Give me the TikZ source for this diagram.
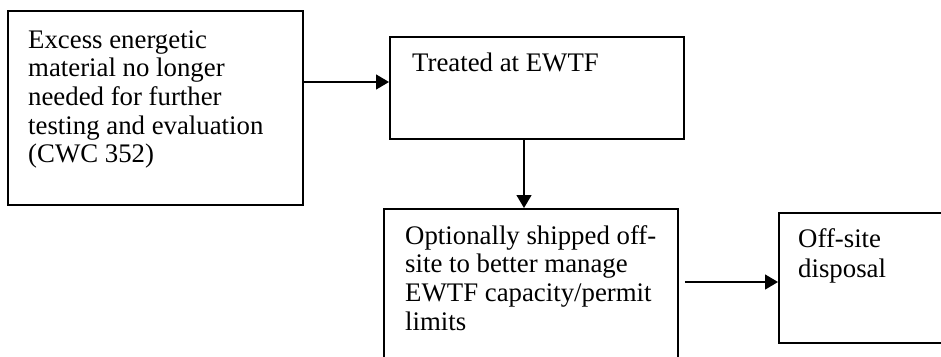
\documentclass[tikz,border=0pt]{standalone}
\usepackage{fontspec}
\setmainfont{Liberation Serif}
\usetikzlibrary{arrows.meta}
\tikzset{
  box/.style={draw, line width=1.8pt, inner sep=0pt, anchor=north west},
  lbl/.style={inner sep=0pt, anchor=base west, font=\fontsize{26.8}{28.7}\selectfont},
  arr/.style={line width=1.4pt, -{Triangle[length=13pt,width=15pt]}},
}
\begin{document}
\begin{tikzpicture}[x=1pt,y=1pt]
\clip (0,0) rectangle (941,-356);

% process boxes
\node[box, minimum width=295pt, minimum height=194pt] (b1) at (7,-10) {};
\node[box, minimum width=294pt, minimum height=102pt] (b2) at (389,-36) {};
\node[box, minimum width=294pt, minimum height=170pt] (b3) at (383,-208) {};
\node[box, minimum width=200pt, minimum height=130pt] (b4) at (778,-212) {};

% box texts
\node[lbl] (t1) at (28,-48) {\begin{tabular}[t]{@{}l@{}}Excess energetic\\material no longer\\needed for further\\testing and evaluation\\(CWC 352)\end{tabular}};
\node[lbl] (t2) at (412,-71) {Treated at EWTF};
\node[lbl] (t3) at (405,-244) {\begin{tabular}[t]{@{}l@{}}Optionally shipped off-\\site to better manage\\EWTF capacity/permit\\limits\end{tabular}};
\node[lbl, font=\fontsize{26.8}{30}\selectfont] (t4) at (798,-247) {\begin{tabular}[t]{@{}l@{}}Off-site\\disposal\end{tabular}};

% connectors
\coordinate (y1) at (0,-82);
\draw[arr] (b1.east |- y1) -- (b2.west |- y1);
\coordinate (x2) at (524,0);
\draw[arr] (b2.south -| x2) -- (b3.north -| x2);
\coordinate (y3) at (0,-282);
\draw[arr] ([xshift=6pt]b3.east |- y3) -- (b4.west |- y3);
\end{tikzpicture}
\end{document}
